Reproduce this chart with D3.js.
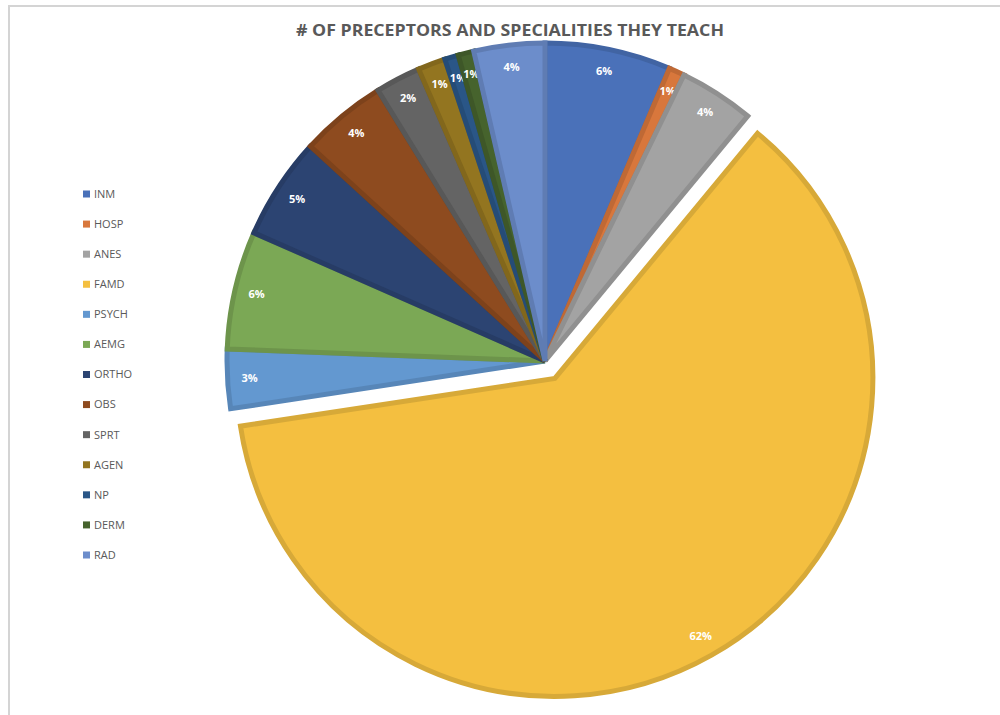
<!DOCTYPE html>
<html>
<head>
<meta charset="utf-8">
<script src="https://cdn.jsdelivr.net/npm/d3@7"></script>
<style>
  html, body { margin: 0; padding: 0; background: #ffffff; }
  svg { display: block; }
</style>
</head>
<body>
<svg id="chart" width="1000" height="715"></svg>
<script>
// ---- data (percent share of preceptors) ----
const categories = ["INM", "HOSP", "ANES", "FAMD", "PSYCH", "AEMG", "ORTHO", "OBS", "SPRT", "AGEN", "NP", "DERM", "RAD"];
const values     = [6.4, 0.8, 3.8, 61.6, 3.0, 6.0, 5.2, 4.4, 2.3, 1.4, 0.7, 0.8, 3.6];
const colors     = ["#4a71b9", "#d8773c", "#a3a3a3", "#f4bf40", "#6398d0", "#7ba855", "#2c4472", "#8e4b1f", "#646464", "#937520", "#2a5687", "#46632d", "#6c8dcb"];
const explodedCategory = "FAMD";
const title = "# OF PRECEPTORS AND SPECIALITIES THEY TEACH";

const svg = d3.select("#chart");

// outer border of the chart area
svg.append("rect")
  .attr("x", 9).attr("y", 6).attr("width", 1000).attr("height", 720)
  .attr("fill", "none").attr("stroke", "#d4d4d4").attr("stroke-width", 2);

// title
svg.append("text")
  .attr("x", 510).attr("y", 36)
  .attr("text-anchor", "middle")
  .attr("font-family", "'Open Sans', 'Liberation Sans', sans-serif")
  .attr("font-weight", "bold")
  .attr("font-size", 16)
  .attr("fill", "#595959")
  .attr("textLength", 428)
  .attr("lengthAdjust", "spacingAndGlyphs")
  .text(title);

// pie
const cx = 545, cy = 361, R = 318, explode = 20;
const data = categories.map((c, i) => ({ cat: c, value: values[i], color: colors[i] }));
const total = d3.sum(values);
const pie = d3.pie().sort(null).value(d => d.value);
const arcs = pie(data);
const arc = d3.arc().innerRadius(0).outerRadius(R);
const labelArc = d3.arc().innerRadius(R - 22).outerRadius(R - 22);

const g = svg.append("g").attr("transform", `translate(${cx},${cy})`);

const slices = g.selectAll("g.slice").data(arcs).join("g")
  .attr("class", "slice")
  .attr("transform", d => {
    if (d.data.cat !== explodedCategory) return null;
    const mid = (d.startAngle + d.endAngle) / 2;
    return `translate(${Math.sin(mid) * explode},${-Math.cos(mid) * explode})`;
  });

slices.append("path")
  .attr("d", arc)
  .attr("fill", d => d.data.color)
  .attr("stroke", d => d3.color(d.data.color).darker(0.35))
  .attr("stroke-width", 5)
  .attr("stroke-linejoin", "miter");

slices.append("text")
  .attr("transform", d => `translate(${labelArc.centroid(d)})`)
  .attr("text-anchor", "middle")
  .attr("dy", "0.35em")
  .attr("font-family", "'Open Sans', 'Liberation Sans', sans-serif")
  .attr("font-weight", "bold")
  .attr("font-size", 11)
  .attr("fill", "#ffffff")
  .text(d => Math.round(d.data.value / total * 100) + "%");

// legend
const legendY = d3.scalePoint().domain(categories).range([194, 555]);
const legend = svg.append("g");
const items = legend.selectAll("g").data(data).join("g")
  .attr("transform", d => `translate(83,${legendY(d.cat)})`);
items.append("rect")
  .attr("x", 0).attr("y", -3.5).attr("width", 7).attr("height", 7)
  .attr("fill", d => d.color);
items.append("text")
  .attr("x", 11).attr("y", 0).attr("dy", "0.35em")
  .attr("font-family", "'Open Sans', 'Liberation Sans', sans-serif")
  .attr("font-size", 11)
  .attr("fill", "#595959")
  .text(d => d.cat);
</script>
</body>
</html>
